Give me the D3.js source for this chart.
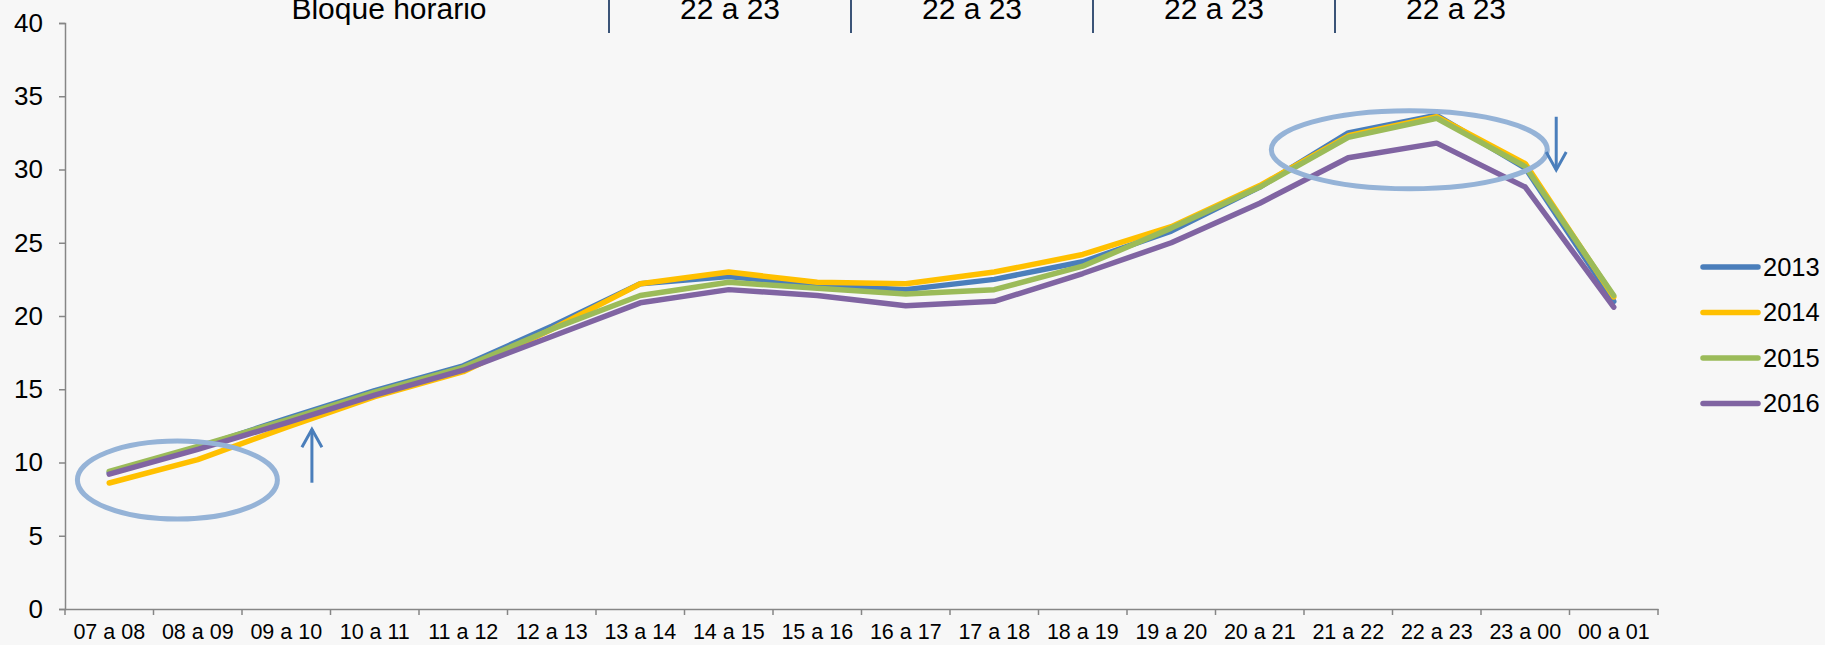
<!DOCTYPE html>
<html>
<head>
<meta charset="utf-8">
<script src="https://cdn.jsdelivr.net/npm/d3@7"></script>
<style>
  body { margin: 0; background: #f7f7f7; }
  svg { display: block; font-family: "Liberation Sans", Arial, sans-serif; }
</style>
</head>
<body>
<div id="chart"></div>
<script>
// categories (hour blocks)
var categories = ["07 a 08", "08 a 09", "09 a 10", "10 a 11", "11 a 12", "12 a 13",
  "13 a 14", "14 a 15", "15 a 16", "16 a 17", "17 a 18", "18 a 19", "19 a 20",
  "20 a 21", "21 a 22", "22 a 23", "23 a 00", "00 a 01"];

// series values
var years = ["2013", "2014", "2015", "2016"];
var v2013 = [9.3, 11.0, 13.0, 14.9, 16.6, 19.3, 22.2, 22.7, 22.1, 21.8, 22.5, 23.7, 25.8, 28.8, 32.5, 33.7, 30.1, 21.0];
var v2014 = [8.6, 10.2, 12.4, 14.5, 16.2, 19.1, 22.2, 23.0, 22.3, 22.2, 23.0, 24.2, 26.1, 28.9, 32.3, 33.6, 30.4, 21.3];
var v2015 = [9.4, 11.1, 12.9, 14.8, 16.5, 19.1, 21.4, 22.3, 21.9, 21.5, 21.8, 23.4, 26.0, 28.8, 32.2, 33.5, 30.2, 21.4];
var v2016 = [9.2, 10.9, 12.7, 14.6, 16.3, 18.6, 20.9, 21.8, 21.4, 20.7, 21.0, 22.9, 25.0, 27.7, 30.8, 31.8, 28.8, 20.6];
var yTicks = [0, 5, 10, 15, 20, 25, 30, 35, 40];

// header row on top of the chart
var headerLabels = ["Bloque horario", "22 a 23", "22 a 23", "22 a 23", "22 a 23"];

var colors = ["#4a7ebb", "#ffc000", "#9bbb59", "#8064a2"];
var seriesValues = [v2013, v2014, v2015, v2016];

var svgWidth = 1825, svgHeight = 645;
var margin = { top: 23, right: 167, bottom: 36, left: 65 };
var chartWidth = svgWidth - margin.left - margin.right;
var chartHeight = svgHeight - margin.top - margin.bottom;

var svg = d3.select("#chart").append("svg")
  .attr("width", svgWidth)
  .attr("height", svgHeight);

svg.append("rect").attr("width", svgWidth).attr("height", svgHeight).attr("fill", "#f7f7f7");

var chartGroup = svg.append("g")
  .attr("transform", `translate(${margin.left}, ${margin.top})`);

var xBand = d3.scaleBand().domain(categories).range([0, chartWidth]);
var step = xBand.step();
var xPos = function(i) { return xBand(categories[0]) + step * (i + 0.5); };

var yScale = d3.scaleLinear().domain([0, 40]).range([chartHeight, 0]);

var axisColor = "#868686";

// y axis
var leftAxis = d3.axisLeft(yScale).tickValues(yTicks).tickSize(6).tickPadding(16);
var yAxisG = chartGroup.append("g").call(leftAxis);
yAxisG.select(".domain").attr("stroke", axisColor).attr("stroke-width", 1.5);
yAxisG.selectAll(".tick line").attr("stroke", axisColor).attr("stroke-width", 1.5);
yAxisG.selectAll(".tick text").attr("font-size", 26).attr("fill", "#000")
  .attr("font-family", "Liberation Sans, Arial, sans-serif");

// x axis: labels centred in bands, ticks between categories
var bottomAxis = d3.axisBottom(xBand).tickSize(0).tickPadding(15);
var xAxisG = chartGroup.append("g")
  .attr("transform", `translate(0, ${chartHeight})`)
  .call(bottomAxis);
xAxisG.select(".domain").attr("stroke", axisColor).attr("stroke-width", 1.5);
xAxisG.selectAll(".tick text").attr("font-size", 21.5).attr("fill", "#000")
  .attr("font-family", "Liberation Sans, Arial, sans-serif");
xAxisG.selectAll(".boundary")
  .data(d3.range(categories.length + 1))
  .enter()
  .append("line")
  .attr("class", "boundary")
  .attr("x1", d => d * step)
  .attr("x2", d => d * step)
  .attr("y1", 0)
  .attr("y2", 6)
  .attr("stroke", axisColor)
  .attr("stroke-width", 1.5);

// lines
var line = d3.line()
  .x((d, i) => xPos(i))
  .y(d => yScale(d));

chartGroup.selectAll(".series")
  .data(seriesValues)
  .enter()
  .append("path")
  .attr("class", "series")
  .attr("d", d => line(d))
  .attr("fill", "none")
  .attr("stroke", (d, i) => colors[i])
  .attr("stroke-width", 5.5)
  .attr("stroke-linejoin", "round")
  .attr("stroke-linecap", "round");

// annotations: ellipses and arrows
var ellipses = [
  { idx: 0.77, val: 8.8, rx: 100, ry: 39 },
  { idx: 14.69, val: 31.35, rx: 138, ry: 39 }
];
chartGroup.selectAll(".ring")
  .data(ellipses)
  .enter()
  .append("ellipse")
  .attr("cx", d => xPos(d.idx))
  .attr("cy", d => yScale(d.val))
  .attr("rx", d => d.rx)
  .attr("ry", d => d.ry)
  .attr("fill", "none")
  .attr("stroke", "#95b3d7")
  .attr("stroke-width", 5);

var arrows = [
  { idx: 2.29, from: 8.62, to: 12.27 },
  { idx: 16.35, from: 33.6, to: 29.97 }
];
arrows.forEach(function(a) {
  var x = xPos(a.idx), y0 = yScale(a.from), y1 = yScale(a.to);
  var dir = y1 < y0 ? 1 : -1;
  var g = chartGroup.append("g")
    .attr("stroke", "#4a7ebb").attr("stroke-width", 3).attr("fill", "none");
  g.append("line").attr("x1", x).attr("x2", x).attr("y1", y0).attr("y2", y1);
  g.append("path")
    .attr("d", `M${x - 10},${y1 + dir * 18} L${x},${y1} L${x + 10},${y1 + dir * 18}`);
});

// legend
var legend = svg.append("g").attr("transform", "translate(1703, 267)");
var items = legend.selectAll(".item")
  .data(years)
  .enter()
  .append("g")
  .attr("transform", (d, i) => `translate(0, ${i * 45.5})`);
items.append("line")
  .attr("x1", 0).attr("x2", 55).attr("y1", 0).attr("y2", 0)
  .attr("stroke", (d, i) => colors[i])
  .attr("stroke-width", 5.5)
  .attr("stroke-linecap", "round");
items.append("text")
  .attr("x", 60)
  .attr("y", 0)
  .attr("dy", "0.35em")
  .attr("font-size", 25.5)
  .text(d => d);

// header row
var cellW = 242, firstSep = 609;
var header = svg.append("g");
header.append("text")
  .attr("x", 389)
  .attr("y", 19)
  .attr("text-anchor", "middle")
  .attr("font-size", 30)
  .text(headerLabels[0]);
header.selectAll(".cell")
  .data(headerLabels.slice(1))
  .enter()
  .append("text")
  .attr("x", (d, i) => firstSep + cellW * (i + 0.5))
  .attr("y", 19)
  .attr("text-anchor", "middle")
  .attr("font-size", 30)
  .text(d => d);
header.selectAll(".sep")
  .data(d3.range(4))
  .enter()
  .append("line")
  .attr("x1", d => firstSep + cellW * d)
  .attr("x2", d => firstSep + cellW * d)
  .attr("y1", 0)
  .attr("y2", 33)
  .attr("stroke", "#3b5478")
  .attr("stroke-width", 2);
</script>
</body>
</html>
